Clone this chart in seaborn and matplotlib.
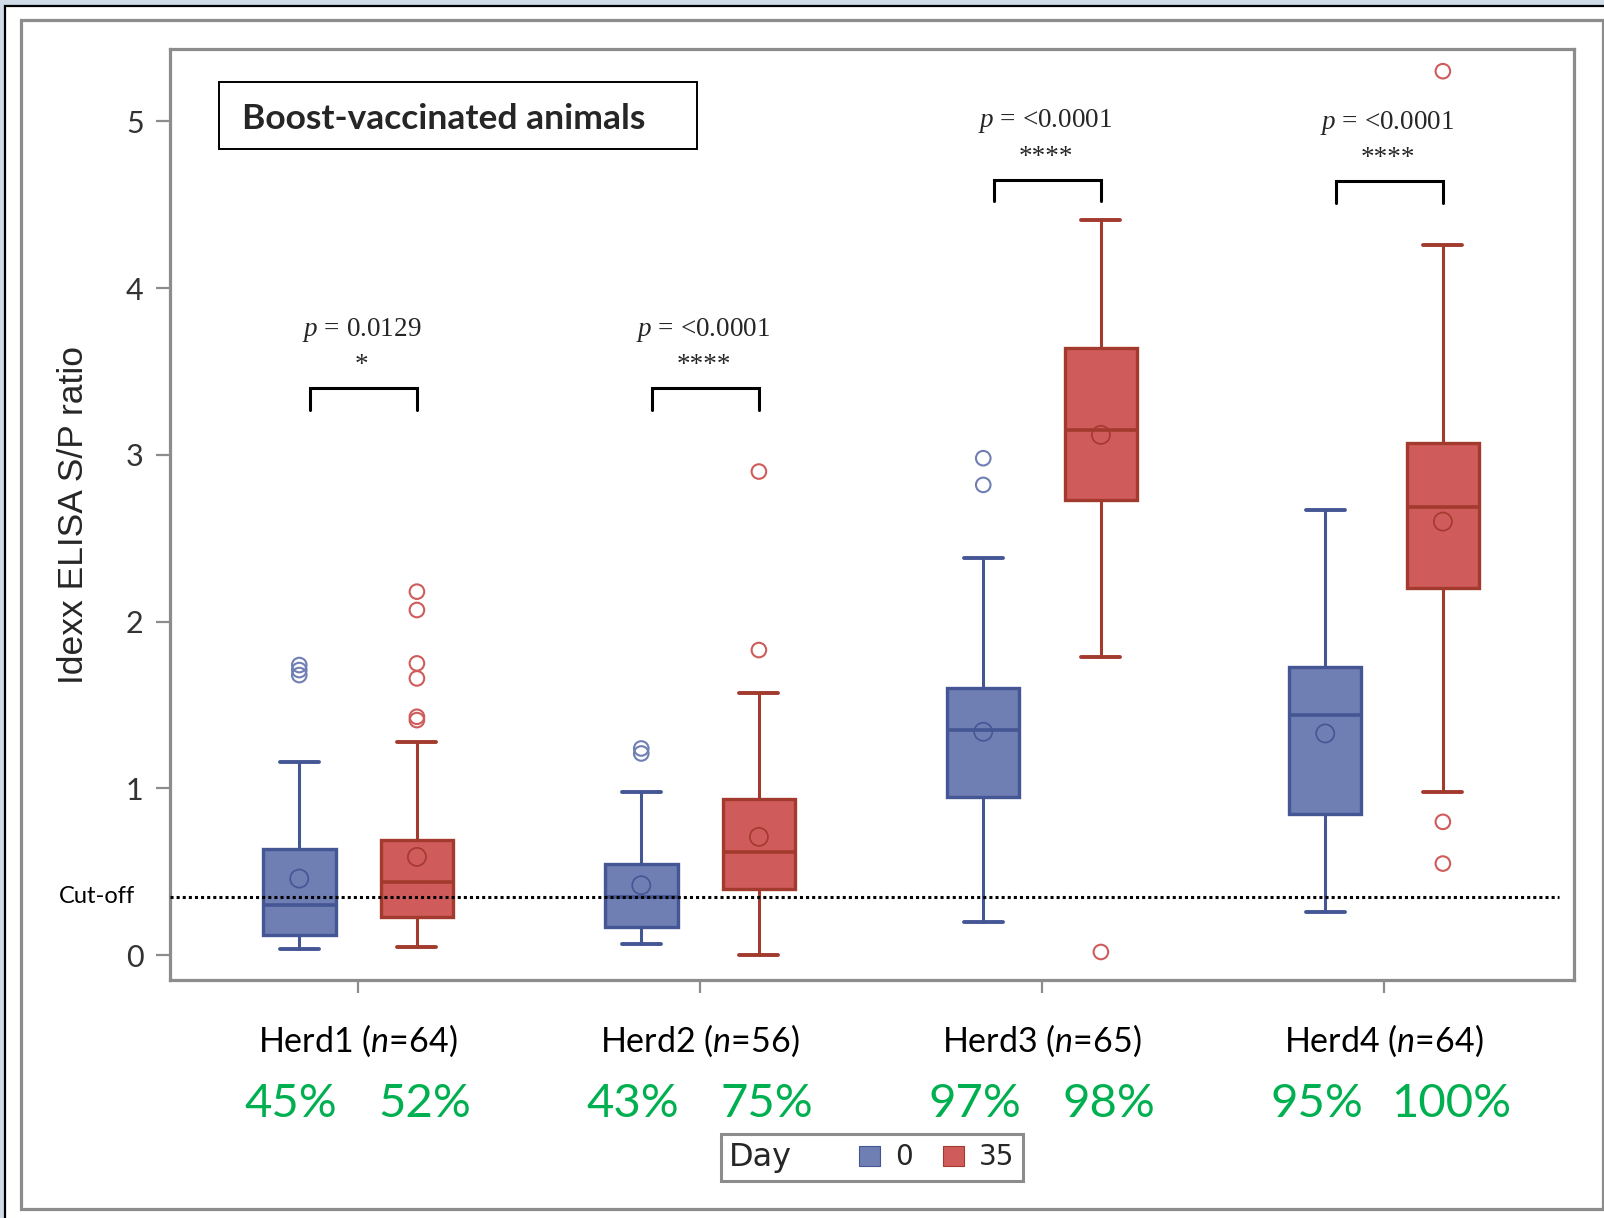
import matplotlib
matplotlib.use("Agg")
import matplotlib.pyplot as plt
import matplotlib.transforms as mtransforms
from matplotlib.offsetbox import HPacker
from matplotlib.patches import Patch, Rectangle
import numpy as np
import pandas as pd
import seaborn as sns

sns.set_theme(style="ticks")
plt.rcParams["font.family"] = ["Lato", "DejaVu Sans"]
plt.rcParams["mathtext.fontset"] = "custom"
plt.rcParams["mathtext.rm"] = "Liberation Serif"
plt.rcParams["mathtext.it"] = "Liberation Serif:italic"
plt.rcParams["mathtext.sf"] = "Lato:italic"

# ---- data ----
herds = ["Herd1", "Herd2", "Herd3", "Herd4"]
n_animals = [64, 56, 65, 64]
days = ["0", "35"]

d0_whislo = [0.04, 0.07, 0.20, 0.26]
d0_q1 = [0.12, 0.17, 0.95, 0.85]
d0_med = [0.30, 0.35, 1.35, 1.44]
d0_q3 = [0.64, 0.55, 1.60, 1.73]
d0_whishi = [1.16, 0.98, 2.38, 2.67]
d0_mean = [0.46, 0.42, 1.34, 1.33]
d0_fliers = [[1.68, 1.71, 1.74], [1.21, 1.24], [2.82, 2.98], []]

d35_whislo = [0.05, 0.00, 1.79, 0.98]
d35_q1 = [0.23, 0.40, 2.73, 2.20]
d35_med = [0.44, 0.62, 3.15, 2.69]
d35_q3 = [0.69, 0.94, 3.64, 3.07]
d35_whishi = [1.28, 1.57, 4.41, 4.26]
d35_mean = [0.59, 0.71, 3.12, 2.60]
d35_fliers = [[1.41, 1.43, 1.66, 1.75, 2.07, 2.18], [1.83, 2.90], [0.02], [0.55, 0.80, 5.30]]

seropositive = [["45%", "52%"], ["43%", "75%"], ["97%", "98%"], ["95%", "100%"]]
p_values = ["0.0129", "<0.0001", "<0.0001", "<0.0001"]
p_stars = ["*", "****", "****", "****"]
cutoff = 0.35

# ---- styling / layout ----
fill = {"0": "#6F7EB3", "35": "#D05B5B"}
edge = {"0": "#445694", "35": "#A23A2E"}
dodge = {"0": -0.172, "35": 0.172}
bracket_y = [3.40, 3.40, 4.65, 4.64]
grey = "#8c8c8c"

fig = plt.figure(figsize=(16.04, 12.18), dpi=100, facecolor="#cfdbe7")
fig.add_artist(Rectangle((5 / 1604, -0.1), 1.2, 1.1 - 6 / 1218, transform=fig.transFigure,
                         facecolor="white", edgecolor="black", linewidth=1.6, zorder=-10))
fig.add_artist(Rectangle((21 / 1604, 1 - 1208.5 / 1218), 1581.5 / 1604, 1188.5 / 1218,
                         transform=fig.transFigure, facecolor="none", edgecolor=grey,
                         linewidth=2.3, zorder=-9))

ax = fig.add_axes([0.10599, 0.19540, 0.87500, 0.76396])
ax.set_facecolor("white")

x = np.arange(len(herds))
summary = {
    "0": (d0_whislo, d0_q1, d0_med, d0_q3, d0_whishi),
    "35": (d35_whislo, d35_q1, d35_med, d35_q3, d35_whishi),
}
for day in days:
    lo, q1, med, q3, hi = summary[day]
    stats = [dict(whislo=a, q1=b, med=c, q3=d, whishi=e, fliers=[])
             for a, b, c, d, e in zip(lo, q1, med, q3, hi)]
    ax.bxp(stats, positions=x + dodge[day], widths=0.212, capwidths=0.114,
           patch_artist=True, showfliers=False, manage_ticks=False,
           boxprops=dict(facecolor=fill[day], edgecolor=edge[day], linewidth=2.4),
           medianprops=dict(color=edge[day], linewidth=2.6),
           whiskerprops=dict(color=edge[day], linewidth=2.2),
           capprops=dict(color=edge[day], linewidth=2.8))

means = pd.DataFrame({
    "x": np.r_[x + dodge["0"], x + dodge["35"]],
    "value": d0_mean + d35_mean,
    "Day": ["0"] * len(herds) + ["35"] * len(herds),
})
rows = []
for day, fl in (("0", d0_fliers), ("35", d35_fliers)):
    for i, vals in enumerate(fl):
        for v in vals:
            rows.append((i + dodge[day], v, day))
fliers = pd.DataFrame(rows, columns=["x", "value", "Day"])

for day in days:
    sns.scatterplot(data=means[means["Day"] == day], x="x", y="value", marker="o", s=170,
                    facecolor="none", edgecolor=edge[day], linewidth=1.2, ax=ax,
                    legend=False, zorder=4)
    sns.scatterplot(data=fliers[fliers["Day"] == day], x="x", y="value", marker="o", s=110,
                    facecolor="none", edgecolor=fill[day], linewidth=1.5, ax=ax,
                    legend=False, zorder=4)

ax.axhline(cutoff, xmin=0, xmax=0.99, color="black", linestyle=(0, (1, 1)),
           linewidth=2.2, zorder=5)
ax.text(-0.025, cutoff, "Cut-off", transform=mtransforms.blended_transform_factory(ax.transAxes, ax.transData),
        ha="right", va="center", fontsize=17, color="black")

# significance brackets
for i, (yb, pv, st) in enumerate(zip(bracket_y, p_values, p_stars)):
    ax.plot([i - 0.14, i - 0.14, i + 0.172, i + 0.172], [yb - 0.13, yb, yb, yb - 0.13],
            color="black", linewidth=2.2, solid_joinstyle="miter")
    ax.text(i + 0.01, yb + 0.35, r"$p$ = " + pv, ha="center", va="center",
            fontsize=19.5, family="Liberation Serif")
    ax.text(i + 0.01, yb + 0.135, st, ha="center", va="center", fontsize=19.5,
            family="Liberation Serif")

ax.set_xlim(-0.55, 3.554)
ax.set_ylim(-0.148, 5.43)
ax.set_yticks([0, 1, 2, 3, 4, 5])
ax.set_xticks(x)
ax.set_xticklabels([f"{h} ($\\mathsf{{n}}$={n})" for h, n in zip(herds, n_animals)])
ax.tick_params(axis="y", direction="out", length=10, width=1.6, color=grey, pad=9,
               labelsize=22, labelcolor="#333333")
ax.tick_params(axis="x", direction="out", length=9, width=1.6, color=grey, pad=22,
               labelsize=24.5, labelcolor="black")
for sp in ax.spines.values():
    sp.set_visible(True)
    sp.set_color(grey)
    sp.set_linewidth(2.3)
ax.set_xlabel("")
ax.set_ylabel("Idexx ELISA S/P ratio", family="Liberation Sans", fontsize=25.5, labelpad=26)

# seropositive percentages under each box
pct_trans = mtransforms.blended_transform_factory(ax.transData, fig.transFigure)
for i, pair in enumerate(seropositive):
    for day, label in zip(days, pair):
        ax.text(i + dodge[day] * 1.14, 0.0935, label, transform=pct_trans, ha="center",
                va="center", fontsize=34, color="#00B050")

# title box
fig.add_artist(Rectangle((219 / 1604, 1 - 149 / 1218), 478 / 1604, 67 / 1218,
                         transform=fig.transFigure, facecolor="white", edgecolor="black",
                         linewidth=1.4, zorder=3))
fig.text(242 / 1604, 1 - 119 / 1218, "Boost-vaccinated animals", ha="left", va="center",
         fontsize=25.5, fontweight="bold", zorder=4)

# legend with the title placed to the left of the entries
handles = [Patch(facecolor=fill[d], edgecolor=edge[d], linewidth=0.8, label=d) for d in days]
leg = ax.legend(handles=handles, title="Day", ncols=2, loc="center",
                bbox_to_anchor=(0.5435, 0.0497), bbox_transform=fig.transFigure,
                prop={"family": "DejaVu Sans", "size": 20},
                title_fontproperties={"family": "DejaVu Sans", "size": 23},
                frameon=True, fancybox=False, edgecolor=grey, framealpha=1,
                handlelength=0.75, handleheight=0.75, handletextpad=0.55,
                columnspacing=1.1, borderpad=0.3, borderaxespad=0)
leg.get_frame().set_linewidth(2.2)
fs = leg._fontsize
leg._legend_box = HPacker(pad=leg.borderpad * fs, sep=48, align="center",
                          children=[leg._legend_title_box, leg._legend_handle_box])
leg._legend_box.set_figure(fig)
leg._legend_box.axes = ax
leg._legend_box.set_offset(leg._findoffset)

fig.savefig("out.png", dpi=100, facecolor=fig.get_facecolor())
